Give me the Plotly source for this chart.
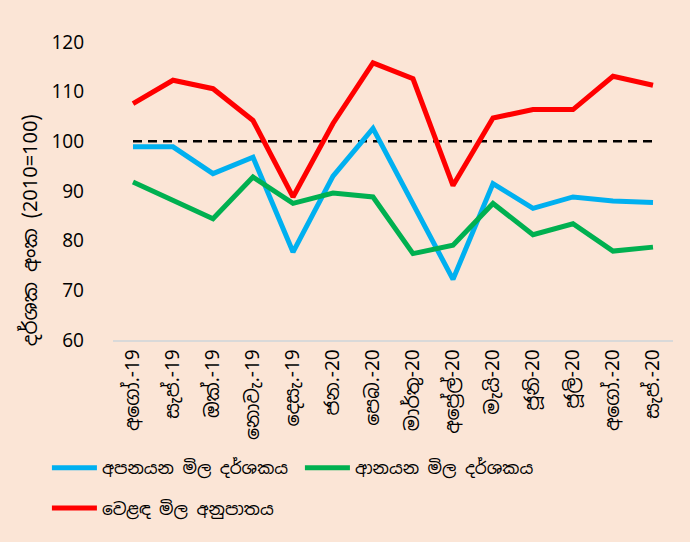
import plotly.graph_objects as go

months = ["අගෝ.-19", "සැප්.-19", "ඔක්.-19", "නොවැ.-19", "දෙසැ.-19", "ජන.-20", "පෙබ.-20",
          "මාර්තු-20", "අප්‍රේල්-20", "මැයි-20", "ජූනි-20", "ජූලි-20", "අගෝ.-20", "සැප්.-20"]
export_idx = [98.9, 98.9, 93.5, 96.8, 77.7, 93.0, 102.6, 87.5, 72.2, 91.5, 86.5, 88.8, 88.0, 87.7]
import_idx = [91.8, 88.1, 84.4, 92.8, 87.5, 89.6, 88.8, 77.4, 79.1, 87.5, 81.2, 83.4, 77.9, 78.7]
tot = [107.6, 112.3, 110.6, 104.2, 88.8, 103.6, 115.8, 112.6, 91.1, 104.7, 106.4, 106.4, 113.1, 111.3]
base = [100] * len(months)

names = ["අපනයන මිල දර්ශකය", "ආනයන මිල දර්ශකය", "වෙළඳ මිල අනුපාතය"]
colors = ["#00B0F0", "#00B050", "#FF0000"]
legends = ["legend", "legend", "legend2"]
y_title = "දර්ශක අංක (2010=100)"

fig = go.Figure()
fig.add_trace(go.Scatter(x=months, y=base, mode="lines", showlegend=False, hoverinfo="skip",
                         line=dict(color="black", width=2.5, dash="9px,6px")))
for n, v, c, lg in zip(names, [export_idx, import_idx, tot], colors, legends):
    fig.add_trace(go.Scatter(x=months, y=v, name=n, mode="lines", legend=lg,
                             line=dict(color=c, width=5)))

bg = "#FBE5D6"
font = "Noto Sans Sinhala, Noto Sans, Segoe UI, sans-serif"
leg_common = dict(orientation="h", xanchor="left", yanchor="middle",
                  entrywidth=193, entrywidthmode="pixels", font=dict(size=17),
                  bgcolor="rgba(0,0,0,0)", itemwidth=45, tracegroupgap=0)
fig.update_layout(
    width=690, height=542,
    paper_bgcolor=bg, plot_bgcolor=bg,
    margin=dict(l=113, r=17, t=42, b=202, autoexpand=False),
    font=dict(family=font, size=16, color="black"),
    xaxis=dict(tickangle=-90, showgrid=False, showline=True, linecolor="#D9D9D9", linewidth=1.5,
               ticks="", tickfont=dict(size=19), range=[-0.5, 13.5], automargin=False),
    yaxis=dict(range=[60, 120], dtick=10, showgrid=False, zeroline=False, ticks="",
               tickfont=dict(size=19), ticklabelstandoff=28, automargin=False),
    legend=dict(x=-0.118, y=-0.43, **leg_common),
    legend2=dict(x=-0.118, y=-0.565, **leg_common),
    showlegend=True,
    annotations=[dict(text=y_title, textangle=-90, xref="paper", yref="paper",
                      x=-0.148, y=0.369, xanchor="center", yanchor="middle",
                      showarrow=False, font=dict(size=20))],
)
fig.write_html("out.html", config={"displayModeBar": False},
               post_script="document.body.style.margin='0';")
